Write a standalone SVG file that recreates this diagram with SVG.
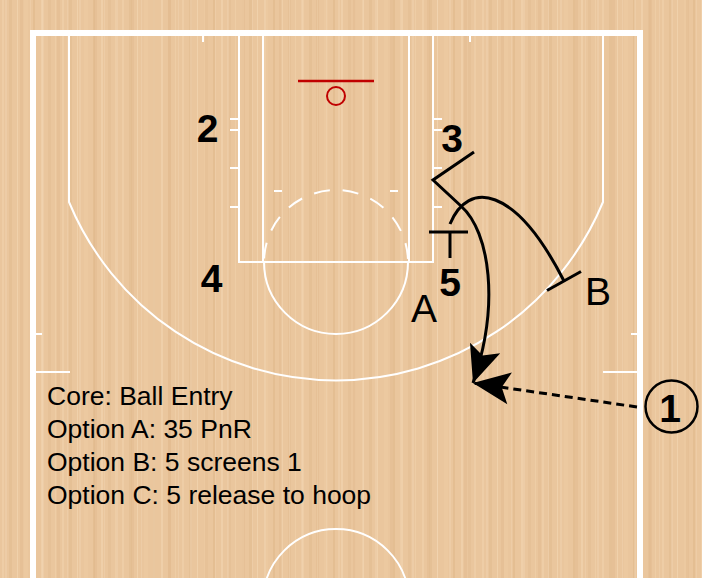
<svg xmlns="http://www.w3.org/2000/svg" width="702" height="578" viewBox="0 0 702 578">
<defs>
<pattern id="wood" width="60" height="578" patternUnits="userSpaceOnUse">
<rect width="60" height="578" fill="#EAC69D"/>
<rect x="2" width="2" height="578" fill="#EECDA6"/>
<rect x="9" width="3" height="578" fill="#E5C095"/>
<rect x="17" width="1" height="578" fill="#F0D1AB"/>
<rect x="24" width="4" height="578" fill="#ECC9A0"/>
<rect x="33" width="2" height="578" fill="#E4BE92"/>
<rect x="41" width="2" height="578" fill="#EFCFA9"/>
<rect x="48" width="3" height="578" fill="#E6C197"/>
<rect x="55" width="1" height="578" fill="#EECDA5"/>
</pattern>
<pattern id="wood2" width="37" height="578" patternUnits="userSpaceOnUse">
<rect x="5" width="2" height="578" fill="#F3D8B6"/>
<rect x="20" width="3" height="578" fill="#DFB68A"/>
<rect x="30" width="1" height="578" fill="#F3D8B6"/>
</pattern>
<marker id="arrow" markerUnits="userSpaceOnUse" viewBox="-39 -18 41 36" refX="0" refY="0" markerWidth="41" markerHeight="36" orient="auto">
<path d="M0,0 L-37,-16 L-29,0 L-37,16 Z" fill="#000"/>
</marker>
<style>
.ln{fill:none;stroke:#FFFFFF;stroke-width:2}
.red{fill:none;stroke:#C00000}
.pl{fill:none;stroke:#000;stroke-width:3}
.num{font-family:"Liberation Sans",Arial,sans-serif;font-weight:bold;font-size:39px;fill:#000;text-anchor:middle}
.let{font-family:"Liberation Sans",Arial,sans-serif;font-size:39px;fill:#000;text-anchor:middle}
.note{font-family:"Liberation Sans",Arial,sans-serif;font-size:26.5px;fill:#000}
</style>
</defs>
<g id="floor">
<rect width="702" height="578" fill="url(#wood)"/>
<rect width="702" height="578" fill="url(#wood2)" opacity="0.35"/>
</g>
<g id="court">
<path d="M33,578 V33 H640 V578" fill="none" stroke="#FFFFFF" stroke-width="6"/>
<path class="ln" d="M203,36 V42 M470,36 V42"/>
<path class="ln" d="M69,36 V202 A289,289 0 0 0 603,202 V36"/>
<path class="ln" d="M239,36 V262 H433 V36 M263,36 V262 M409,36 V262"/>
<path class="ln" d="M230,119 H239 M230,130 H239 M230,168 H239 M230,207 H239 M433,119 H442 M433,130 H442 M433,168 H442 M433,207 H442"/>
<path class="ln" d="M274,191 H282 M390,191 H398"/>
<path class="ln" d="M264,262 A72,72 0 0 0 408,262"/>
<path class="ln" d="M264,262 A72,72 0 0 1 408,262" stroke-dasharray="16 13" stroke-dashoffset="25.4"/>
<path class="ln" d="M36,334 H42 M631,334 H637 M36,372 H70 M603,372 H637"/>
<circle class="ln" cx="336" cy="602" r="73"/>
<path class="red" stroke-width="2.5" d="M298,81 H374"/>
<circle class="red" stroke-width="2" cx="336" cy="96" r="9"/>
</g>
<g id="connectors">
<path id="path-3" class="pl" d="M474,152 L433,180 L461,206 C490,232 500,305 473,383" marker-end="url(#arrow)"/>
<path id="path-5" class="pl" d="M450,224 C468,180 515,185 564,281"/>
<path id="screen-b" class="pl" d="M547,290.5 L581,271.5"/>
<path id="screen-5" class="pl" d="M450,258 V232 M429,232 H468"/>
<path id="pass-1" class="pl" d="M637,407 L473,383" stroke-dasharray="8 5" marker-end="url(#arrow)"/>
</g>
<g id="player-1">
<circle cx="671.5" cy="406.5" r="26" fill="none" stroke="#000" stroke-width="2.5"/>
<text class="num" x="670" y="422">1</text>
</g>
<g id="player-2"><text class="num" x="207.5" y="142">2</text></g>
<g id="player-3"><text class="num" x="452" y="152">3</text></g>
<g id="player-4"><text class="num" x="211.5" y="292">4</text></g>
<g id="player-5"><text class="num" x="450" y="296">5</text></g>
<g id="label-a"><text class="let" x="424" y="322">A</text></g>
<g id="label-b"><text class="let" x="598" y="305">B</text></g>
<g id="notes">
<text class="note" x="47" y="405">Core: Ball Entry</text>
<text class="note" x="47" y="438">Option A: 35 PnR</text>
<text class="note" x="47" y="471">Option B: 5 screens 1</text>
<text class="note" x="47" y="504">Option C: 5 release to hoop</text>
</g>
</svg>
